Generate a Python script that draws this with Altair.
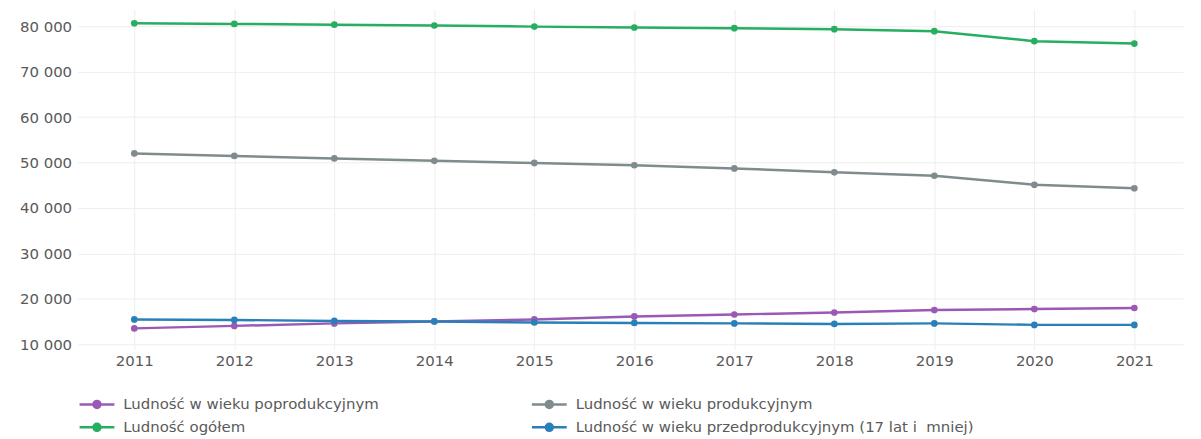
import altair as alt
import pandas as pd

years = [2011, 2012, 2013, 2014, 2015, 2016, 2017, 2018, 2019, 2020, 2021]
series_names = [
    "Ludność w wieku poprodukcyjnym",
    "Ludność w wieku produkcyjnym",
    "Ludność ogółem",
    "Ludność w wieku przedprodukcyjnym (17 lat i \u00a0mniej)",
]
series_colors = ["#9b59b6", "#7f8c8d", "#27ae60", "#2980b9"]

poprodukcyjny = [13500, 14050, 14600, 15030, 15470, 16130, 16560, 17000, 17550, 17770, 17980]
produkcyjny = [52000, 51450, 50900, 50360, 49900, 49400, 48700, 47840, 47080, 45100, 44340]
ogolem = [80650, 80500, 80330, 80150, 79900, 79700, 79560, 79340, 78900, 76700, 76170]
przedprodukcyjny = [15470, 15360, 15140, 15030, 14810, 14700, 14600, 14480, 14600, 14270, 14270]

values = [poprodukcyjny, produkcyjny, ogolem, przedprodukcyjny]
rows = []
for name, vals in zip(series_names, values):
    for y, v in zip(years, vals):
        rows.append({"rok": y, "seria": name, "wartosc": v})
df = pd.DataFrame(rows)

FONT = "DejaVu Sans"
TEXT = "#5a5a5a"
# line with a dot; path extends beyond the unit box so the legend rows stay compact
legend_symbol = "M-2.5,0L2.5,0M0.5,0A0.5,0.5 0 1,1 -0.5,0A0.5,0.5 0 1,1 0.5,0Z"

color = alt.Color(
    "seria:N",
    scale=alt.Scale(domain=series_names, range=series_colors),
    sort=series_names,
    legend=alt.Legend(
        title=None,
        orient="none",
        legendX=11,
        legendY=389,
        columns=2,
        direction="horizontal",
        columnPadding=148,
        rowPadding=6,
        values=series_names,
        symbolType=legend_symbol,
        symbolSize=196,
        symbolStrokeWidth=2.5,
        labelFont=FONT,
        labelFontSize=15,
        labelColor=TEXT,
        labelOffset=18,
        labelLimit=600,
    ),
)

x = alt.X(
    "rok:Q",
    scale=alt.Scale(domain=[2010.433, 2021.487], nice=False, zero=False),
    axis=alt.Axis(
        title=None,
        values=years,
        format="d",
        grid=True,
        gridColor="#eeeeee",
        domain=False,
        ticks=False,
        labelPadding=4,
        labelFont=FONT,
        labelFontSize=15,
        labelColor=TEXT,
    ),
)
y = alt.Y(
    "wartosc:Q",
    scale=alt.Scale(domain=[8906, 83719], nice=False, zero=False),
    axis=alt.Axis(
        title=None,
        values=[10000, 20000, 30000, 40000, 50000, 60000, 70000, 80000],
        labelExpr="replace(format(datum.value, ','), regexp(',', 'g'), ' ')",
        grid=True,
        gridColor="#eeeeee",
        domain=False,
        ticks=False,
        labelPadding=6,
        labelFont=FONT,
        labelFontSize=15,
        labelColor=TEXT,
    ),
)

base = alt.Chart(df).encode(x=x, y=y, color=color)
lines = base.mark_line(strokeWidth=2.5)
points = base.mark_point(filled=True, size=45, opacity=1)

chart = (
    alt.layer(lines, points)
    .properties(
        width=1112,
        height=342,
        autosize=alt.AutoSizeParams(type="none"),
        padding={"left": 70, "top": 0, "right": 10, "bottom": 88},
        view=alt.ViewBackground(stroke="transparent", strokeWidth=0),
    )
    .configure_view(stroke="transparent", strokeWidth=0)
    .configure(background="white")
)

chart.save("out.html", embed_options={"renderer": "svg", "actions": False})
